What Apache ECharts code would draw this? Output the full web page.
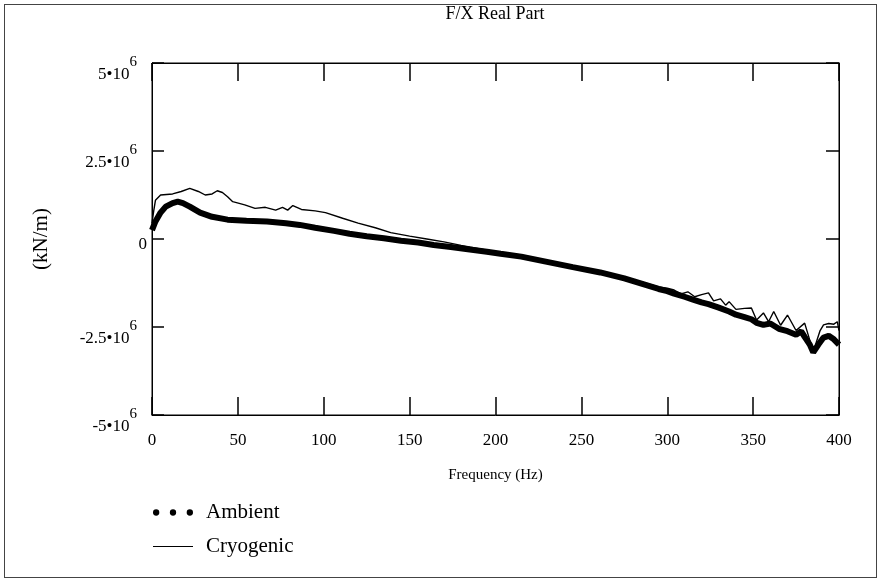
<!DOCTYPE html>
<html>
<head>
<meta charset="utf-8">
<script src="https://cdn.jsdelivr.net/npm/echarts@6/dist/echarts.min.js"></script>
<style>
  html, body { margin: 0; padding: 0; background: #fff; }
  #wrap { position: relative; width: 880px; height: 582px; }
  #chart { width: 880px; height: 582px; }
  #frame { position: absolute; left: 4px; top: 4px; width: 871px; height: 572px; border: 1px solid #444; pointer-events: none; }
</style>
</head>
<body>
<div id="wrap">
  <div id="chart"></div>
  <div id="frame"></div>
</div>
<script>
// values, in units of 1e6 kN/m
const ambientHz = [0,2,5,8,12,15,18,22,28,35,44,55,67,78,86,95,106,115,125,135,145,155,164,174,185,195,203,215,230,245,261,275,285,295,300,304,310,315,320,324,330,336,340,345,349,352,356,360,365,370,375,378,380,383,385,388,391,394,397,400]
const ambientVal = [0.25,0.5,0.75,0.92,1.02,1.06,1.02,0.92,0.75,0.63,0.55,0.52,0.50,0.45,0.40,0.32,0.23,0.15,0.08,0.02,-0.05,-0.1,-0.17,-0.23,-0.3,-0.36,-0.42,-0.5,-0.65,-0.8,-0.95,-1.12,-1.27,-1.42,-1.48,-1.55,-1.64,-1.72,-1.80,-1.85,-1.95,-2.06,-2.15,-2.22,-2.28,-2.38,-2.44,-2.40,-2.55,-2.62,-2.72,-2.62,-2.78,-3.0,-3.22,-3.0,-2.8,-2.75,-2.85,-3.0]

const cryoHz = [0,1,2,5,12,17,22,27,31,35,38,41,44,47,54,60,66,72,76,79,82,87,95,101,111,120,130,139,150,160,170,180,195,203,215,230,245,261,275,285,295,300,304,308,312,316,320,324,327,331,334,336,340,345,349,352,356,359,362,366,370,375,380,385,389,391,394,397,399,400]
const cryoVal = [0.45,0.8,1.1,1.25,1.28,1.35,1.44,1.35,1.25,1.28,1.37,1.32,1.2,1.06,0.97,0.87,0.9,0.82,0.9,0.82,0.95,0.84,0.8,0.75,0.59,0.45,0.32,0.18,0.08,0.0,-0.08,-0.18,-0.32,-0.38,-0.47,-0.62,-0.77,-0.92,-1.08,-1.22,-1.36,-1.40,-1.45,-1.56,-1.50,-1.64,-1.58,-1.53,-1.76,-1.70,-1.88,-1.78,-2.0,-1.97,-1.96,-2.3,-2.1,-2.35,-2.06,-2.45,-2.16,-2.6,-2.39,-3.2,-2.6,-2.44,-2.4,-2.42,-2.35,-2.6]

const SCALE = 1e6
const FONT = 'Liberation Serif'

function pairs(xs, ys) {
  return xs.map((x, i) => [x, ys[i] * SCALE])
}

const chart = echarts.init(document.getElementById('chart'))

const option = {
  animation: false,
  backgroundColor: '#fff',
  title: {
    text: 'F/X Real Part',
    left: 495,
    textAlign: 'center',
    top: 5,
    padding: 0,
    textStyle: { fontFamily: FONT, fontSize: 18, fontWeight: 'normal', color: '#000' }
  },
  legend: {
    orient: 'vertical',
    left: 148,
    top: 497,
    itemWidth: 40,
    itemHeight: 7,
    itemGap: 13,
    textStyle: { fontFamily: FONT, fontSize: 21, color: '#000', padding: [0, 0, 0, 8] },
    data: [
      { name: 'Ambient', icon: 'path://M1,4a3,3 0 1,0 6,0a3,3 0 1,0 -6,0Z M17,4a3,3 0 1,0 6,0a3,3 0 1,0 -6,0Z M33,4a3,3 0 1,0 6,0a3,3 0 1,0 -6,0Z' },
      { name: 'Cryogenic', icon: 'path://M0,0M40,7M0,2.9L40,2.9L40,4.1L0,4.1Z' }
    ]
  },
  grid: {
    left: 152, right: 41, top: 63, bottom: 167,
    show: true, borderColor: '#000', borderWidth: 1
  },
  xAxis: [{
    type: 'value',
    min: 0, max: 400, interval: 50,
    name: 'Frequency (Hz)',
    nameLocation: 'middle',
    nameGap: 53,
    nameTextStyle: { fontFamily: FONT, fontSize: 15, color: '#000' },
    axisLine: { show: true, onZero: false, lineStyle: { color: '#000', width: 1 } },
    axisTick: { inside: true, length: 18, lineStyle: { color: '#000', width: 1.5 } },
    axisLabel: { fontFamily: FONT, fontSize: 17, color: '#000', margin: 17 },
    splitLine: { show: false }
  }, {
    type: 'value',
    position: 'top',
    min: 0, max: 400, interval: 50,
    axisLine: { show: true, onZero: false, lineStyle: { color: '#000' } },
    axisTick: { inside: true, length: 18, lineStyle: { color: '#000', width: 1.5 } },
    axisLabel: { show: false },
    splitLine: { show: false }
  }],
  yAxis: [{
    type: 'value',
    min: -5e6, max: 5e6, interval: 2.5e6,
    name: '(kN/m)',
    nameLocation: 'middle',
    nameGap: 100,
    nameRotate: 90,
    nameTextStyle: { fontFamily: FONT, fontSize: 21, color: '#000' },
    axisLine: { show: true, onZero: false, lineStyle: { color: '#000', width: 1 } },
    axisTick: { inside: true, length: 12, lineStyle: { color: '#000', width: 1.5 } },
    axisLabel: {
      margin: 5,
      padding: [12, 0, 0, 0],
      formatter: function (v) {
        if (v === 0) return '{z|0}'
        return '{b|' + (v / SCALE) + '•10}{s|6}'
      },
      rich: {
        z: { fontFamily: FONT, fontSize: 17, color: '#000' },
        b: { fontFamily: FONT, fontSize: 17, color: '#000', verticalAlign: 'bottom', lineHeight: 17 },
        s: { fontFamily: FONT, fontSize: 15, color: '#000', verticalAlign: 'top', lineHeight: 28, padding: [0, 10, 0, 0] }
      }
    },
    splitLine: { show: false }
  }, {
    type: 'value',
    position: 'right',
    min: -5e6, max: 5e6, interval: 2.5e6,
    axisLine: { show: true, onZero: false, lineStyle: { color: '#000' } },
    axisTick: { inside: true, length: 13, lineStyle: { color: '#000', width: 1.5 } },
    axisLabel: { show: false },
    splitLine: { show: false }
  }],
  series: [{
    name: 'Ambient',
    type: 'line',
    data: pairs(ambientHz, ambientVal),
    symbol: 'none',
    itemStyle: { color: '#000' },
    lineStyle: { color: '#000', width: 6 }
  }, {
    name: 'Cryogenic',
    type: 'line',
    data: pairs(cryoHz, cryoVal),
    symbol: 'none',
    itemStyle: { color: '#000' },
    lineStyle: { color: '#000', width: 1.4 }
  }]
}

chart.setOption(option)
</script>
</body>
</html>
